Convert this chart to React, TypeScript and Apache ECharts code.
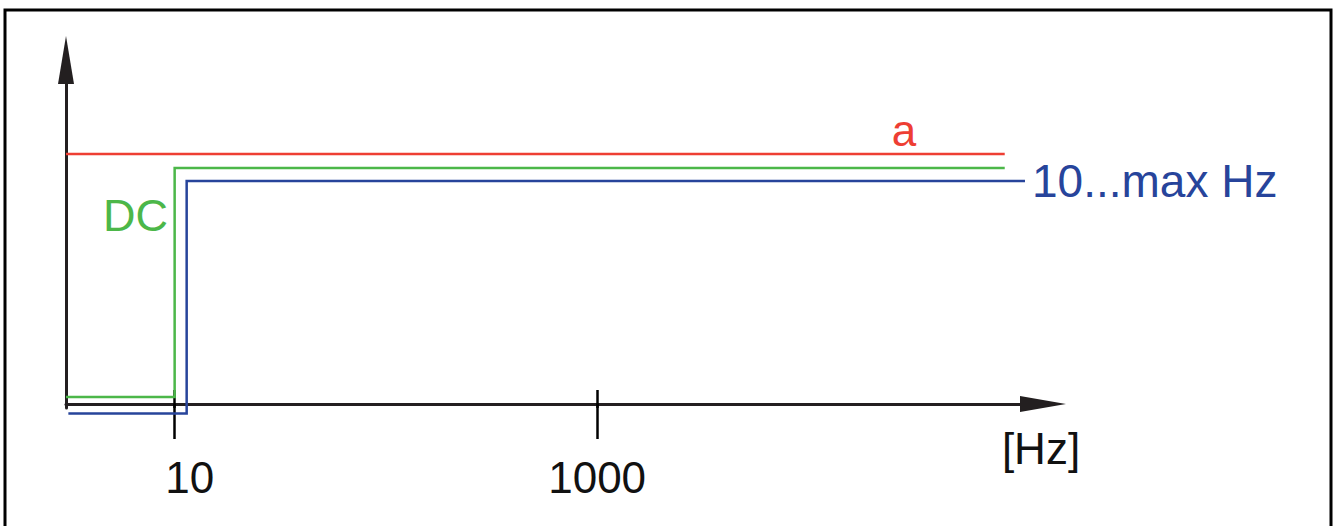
import React, { useEffect, useRef } from "react";
import * as echarts from "echarts";

// Frequencies in Hz (log axis) and signal levels (arbitrary units)
const aFreq = [3.06, 85000];
const aLevel = [250, 250];
const dcFreq = [3.06, 10, 10, 85000];
const dcLevel = [7, 7, 236, 236];
const acFreq = [3.14, 11.4, 11.4, 106000];
const acLevel = [-9.5, -9.5, 223, 223];

const tickValues = [10, 1000];
const tickLabels = ["10", "1000"];
const xMin = 3.06;
const xMax = 129000;
const yMin = -4;
const yMax = 344;

const RED = "#ee3e33";
const GREEN = "#4cb749";
const BLUE = "#27449b";
const BLACK = "#231f20";
const FONT = "Liberation Sans, Arial, sans-serif";

const zip = (xs: number[], ys: number[]) => xs.map((x, i) => [x, ys[i]]);

export default function App() {
  const ref = useRef<HTMLDivElement>(null);
  useEffect(() => {
    if (!ref.current) return;
    const chart = echarts.init(ref.current, undefined, { renderer: "svg" });
    const lineSeries = (name: string, data: number[][], color: string, extra: any = {}) => ({
      type: "line",
      name,
      data,
      showSymbol: false,
      symbol: "none",
      clip: false,
      silent: true,
      lineStyle: { color, width: 2.5, join: "miter", cap: "butt" },
      itemStyle: { color },
      ...extra,
    });
    chart.setOption({
      animation: false,
      grid: { left: 66, top: 60, width: 977, height: 348, containLabel: false },
      xAxis: [
        {
          type: "log",
          min: xMin,
          max: xMax,
          position: "bottom",
          axisLine: {
            show: true,
            onZero: true,
            symbol: ["none", "triangle"],
            symbolSize: [16, 46],
            lineStyle: { color: BLACK, width: 3 },
          },
          axisTick: {
            show: true,
            inside: false,
            length: 35,
            customValues: tickValues,
            lineStyle: { color: "#000", width: 2.5 },
          },
          axisLabel: {
            show: true,
            customValues: tickValues,
            margin: 47,
            color: "#111",
            fontFamily: FONT,
            fontSize: 44,
            formatter: (v: number) => {
              const i = tickValues.indexOf(v);
              const t = i >= 0 ? tickLabels[i] : String(v);
              return i === 0 ? `{o|${t}}` : t;
            },
            rich: {
              o: { fontFamily: FONT, fontSize: 44, color: "#111", padding: [0, 0, 0, 30] },
            },
          },
          splitLine: { show: false },
          minorTick: { show: false },
          minorSplitLine: { show: false },
        },
        {
          type: "log",
          min: xMin,
          max: xMax,
          position: "bottom",
          axisLine: { show: false, onZero: true },
          axisTick: {
            show: true,
            inside: true,
            length: 18,
            customValues: tickValues,
            lineStyle: { color: "#000", width: 2.5 },
          },
          axisLabel: { show: false },
          splitLine: { show: false },
        },
      ],
      yAxis: {
        type: "value",
        min: yMin,
        max: yMax,
        axisLine: {
          show: true,
          onZero: false,
          symbol: ["none", "triangle"],
          symbolSize: [16, 48],
          lineStyle: { color: BLACK, width: 3 },
        },
        axisTick: { show: false },
        axisLabel: { show: false },
        splitLine: { show: false },
      },
      series: [
        lineSeries("a", zip(aFreq, aLevel), RED),
        lineSeries("DC", zip(dcFreq, dcLevel), GREEN),
        lineSeries("10...max Hz", zip(acFreq, acLevel), BLUE, {
          endLabel: {
            show: true,
            formatter: "10...max Hz",
            distance: 7,
            color: BLUE,
            fontFamily: FONT,
            fontSize: 46,
          },
        }),
      ],
      graphic: [
        {
          type: "rect",
          silent: true,
          shape: { x: 5, y: 10, width: 1326, height: 540 },
          style: { fill: "none", stroke: "#000", lineWidth: 3 },
        },
        {
          type: "text",
          silent: true,
          x: 904,
          y: 130,
          style: {
            text: "a",
            fill: RED,
            font: `44px ${FONT}`,
            align: "center",
            verticalAlign: "middle",
          },
        },
        {
          type: "text",
          silent: true,
          x: 135.5,
          y: 215.5,
          style: {
            text: "DC",
            fill: GREEN,
            font: `45px ${FONT}`,
            align: "center",
            verticalAlign: "middle",
          },
        },
        {
          type: "text",
          silent: true,
          x: 1041,
          y: 448.5,
          style: {
            text: "[Hz]",
            fill: "#111",
            font: `44px ${FONT}`,
            align: "center",
            verticalAlign: "middle",
          },
        },
      ],
    });
    return () => chart.dispose();
  }, []);
  return (
    <div
      ref={ref}
      style={{ position: "fixed", left: 0, top: 0, width: 1336, height: 526, background: "#fff" }}
    />
  );
}
